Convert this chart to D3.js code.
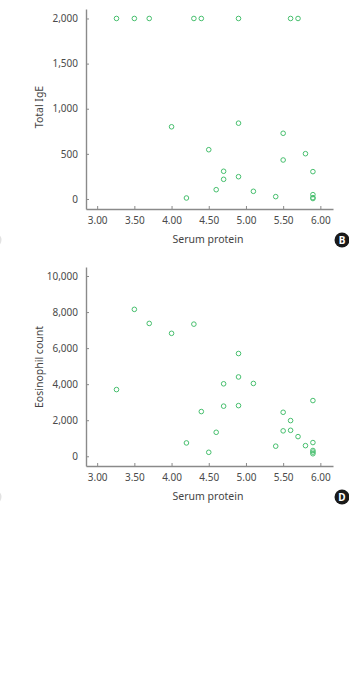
<!DOCTYPE html>
<html lang="en">
<head>
<meta charset="UTF-8">
<title>Serum protein scatter</title>
<style>
  body { margin: 0; background: #fff; }
  svg text { font-family: "Noto Sans", "Open Sans", sans-serif; }
</style>
</head>
<body>
<div id="content"></div>
<script src="https://d3js.org/d3.v7.min.js"></script>
<script>
// panel B: total IgE vs serum protein
var igeProtein = [3.26, 3.5, 3.7, 4.3, 4.4, 4.9, 5.6, 5.7,
  4.0, 4.9, 5.5, 4.5, 5.8, 5.5, 4.7, 5.9, 4.7, 4.9, 4.6, 4.2, 5.1, 5.4, 5.9, 5.9, 5.9];
var igeValues = [2000, 2000, 2000, 2000, 2000, 2000, 2000, 2000,
  800, 840, 728, 546, 502, 432, 307, 303, 218, 247, 103, 11, 85, 26, 48, 15, 5];

// panel D: eosinophil count vs serum protein
var eosProtein = [3.5, 3.7, 4.0, 4.3, 3.26, 4.9, 4.9, 4.7, 5.1, 5.9, 4.4, 4.7, 4.9, 5.5,
  5.6, 4.6, 5.5, 5.6, 5.7, 4.2, 5.4, 5.8, 5.9, 4.5, 5.9, 5.9, 5.9];
var eosValues = [8150, 7370, 6820, 7330, 3700, 5700, 4400, 4020, 4040, 3090, 2480, 2780, 2810, 2440,
  1980, 1330, 1410, 1440, 1090, 740, 560, 590, 760, 220, 320, 230, 140];

var xTicks = [3, 3.5, 4, 4.5, 5, 5.5, 6];
var igeTicks = [0, 500, 1000, 1500, 2000];
var eosTicks = [0, 2000, 4000, 6000, 8000, 10000];

var svg = d3.select("#content").append("svg")
  .attr("width", 349).attr("height", 683);

function panel(opts) {
  var x = d3.scaleLinear().domain([2.85, 6.17]).range([86, 333]);
  var y = d3.scaleLinear().domain(opts.yDomain).range([opts.bottom, opts.top]);

  var gx = svg.append("g")
    .attr("transform", "translate(0," + opts.bottom + ")")
    .call(d3.axisBottom(x).tickValues(xTicks).tickFormat(d3.format(".2f"))
      .tickSize(-3).tickSizeOuter(0).tickPadding(8));
  var gy = svg.append("g")
    .attr("transform", "translate(86,0)")
    .call(d3.axisLeft(y).tickValues(opts.yTicks).tickFormat(d3.format(","))
      .tickSize(-3).tickSizeOuter(0).tickPadding(8));

  [gx, gy].forEach(function (g) {
    g.select(".domain").attr("stroke", "#8a8a8a").attr("stroke-width", 1.4);
    g.selectAll(".tick line").attr("stroke", "#8a8a8a");
    g.selectAll(".tick text").attr("fill", "#4a4a4a").style("font-size", "10px");
  });

  svg.append("g").selectAll("circle")
    .data(opts.xs)
    .join("circle")
    .attr("cx", function (d) { return x(d); })
    .attr("cy", function (d, i) { return y(opts.ys[i]); })
    .attr("r", 2.3)
    .attr("fill", "none")
    .attr("stroke", "#47bf6e")
    .attr("stroke-width", 1);

  svg.append("text")
    .attr("x", 208).attr("y", opts.bottom + 34)
    .attr("text-anchor", "middle")
    .attr("fill", "#444")
    .style("font-size", "10.5px")
    .text("Serum protein");

  svg.append("text")
    .attr("transform", "translate(43," + opts.labelY + ") rotate(-90)")
    .attr("text-anchor", "middle")
    .attr("fill", "#444")
    .style("font-size", "10.5px")
    .text(opts.yLabel);

  // panel letter badge
  svg.append("circle").attr("cx", 342).attr("cy", opts.bottom + 31).attr("r", 7.5).attr("fill", "#1a1a1a");
  svg.append("text")
    .attr("x", 342).attr("y", opts.bottom + 34.5)
    .attr("text-anchor", "middle")
    .attr("fill", "#fff")
    .style("font-size", "10px").style("font-weight", "bold")
    .text(opts.letter);

  // clipped edge of the neighbouring panel's badge
  svg.append("circle").attr("cx", -6).attr("cy", opts.bottom + 31).attr("r", 7.5).attr("fill", "#e2e2e2");
}

panel({ xs: igeProtein, ys: igeValues, yDomain: [-111, 2105], yTicks: igeTicks,
  top: 9, bottom: 209, yLabel: "Total IgE", labelY: 107, letter: "B" });
panel({ xs: eosProtein, ys: eosValues, yDomain: [-540, 10500], yTicks: eosTicks,
  top: 267, bottom: 466, yLabel: "Eosinophil count", labelY: 367, letter: "D" });
</script>
</body>
</html>
